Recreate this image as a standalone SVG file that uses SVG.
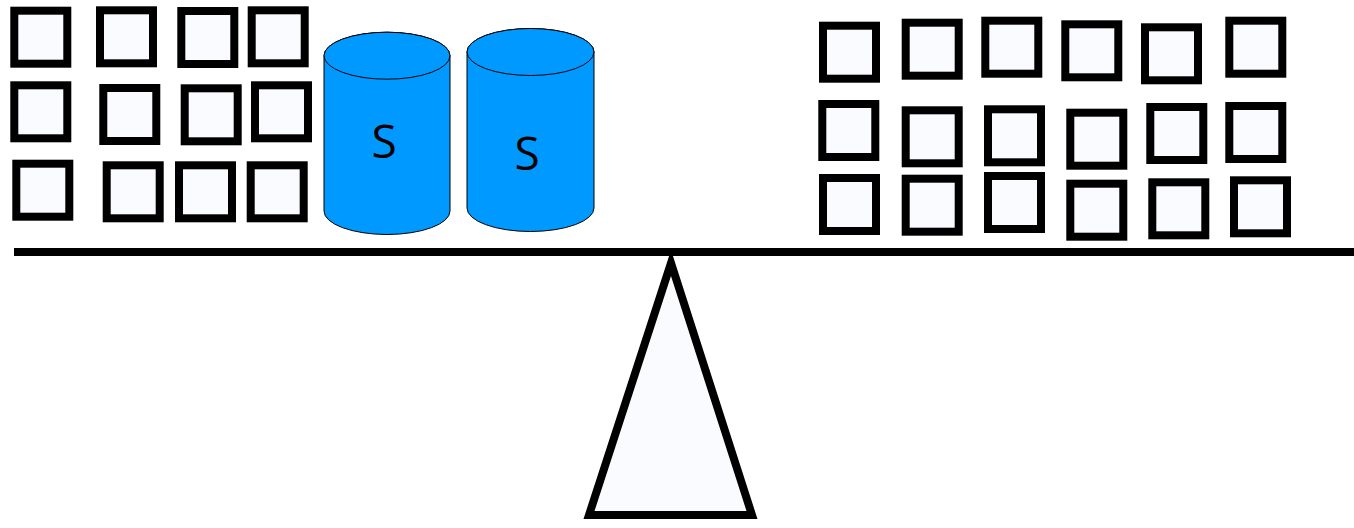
<svg xmlns="http://www.w3.org/2000/svg" width="1354" height="528" viewBox="0 0 1354 528">
<defs>
<style>
.sq{fill:#f9fbff;stroke:#000;stroke-width:8}
.cyl{fill:#0099ff;stroke:#000;stroke-width:1}
.lbl{font-family:"Open Sans","Liberation Sans",sans-serif;font-size:46px;fill:#000;text-anchor:middle}
.fulcrum{fill:#f9fbff;stroke:#000;stroke-width:8;stroke-linejoin:miter}
.beam{stroke:#000;stroke-width:8}
</style>
</defs>
<rect width="1354" height="528" fill="#fff"/>
<g id="fulcrum"><polygon class="fulcrum" points="589,515 752,515 671,263"/></g>
<g id="beam"><line class="beam" x1="14" y1="252" x2="1354" y2="252"/></g>
<g id="left-squares">
<rect id="l1" class="sq" x="14.3" y="10.7" width="53" height="53"/>
<rect id="l2" class="sq" x="100" y="10.3" width="53" height="53"/>
<rect id="l3" class="sq" x="181.3" y="11" width="53" height="53"/>
<rect id="l4" class="sq" x="251.7" y="10.3" width="53" height="53"/>
<rect id="l5" class="sq" x="14.3" y="85.3" width="53" height="53"/>
<rect id="l6" class="sq" x="103.3" y="88" width="53" height="53"/>
<rect id="l7" class="sq" x="184.7" y="88.3" width="53" height="53"/>
<rect id="l8" class="sq" x="255" y="85.3" width="53" height="53"/>
<rect id="l9" class="sq" x="16.3" y="163.7" width="53" height="53"/>
<rect id="l10" class="sq" x="106.7" y="165.3" width="53" height="53"/>
<rect id="l11" class="sq" x="179" y="165.3" width="53" height="53"/>
<rect id="l12" class="sq" x="250.7" y="165.3" width="53" height="53"/>
</g>
<g id="cyl1">
<path class="cyl" d="M324,55.7 L324,211 A63,23.5 0 0 0 450,211 L450,55.7 A63,23.5 0 0 0 324,55.7 Z"/>
<ellipse class="cyl" cx="387" cy="55.7" rx="63" ry="23.5"/>
<text class="lbl" x="384" y="157.5">S</text>
</g>
<g id="cyl2">
<path class="cyl" d="M467,52 L467,208 A63.5,23.5 0 0 0 594,208 L594,52 A63.5,23.5 0 0 0 467,52 Z"/>
<ellipse class="cyl" cx="530.5" cy="52" rx="63.5" ry="23.5"/>
<text class="lbl" x="527" y="170">S</text>
</g>
<g id="right-squares">
<rect id="r1" class="sq" x="823" y="25.7" width="53" height="53"/>
<rect id="r2" class="sq" x="905.7" y="22.7" width="53" height="53"/>
<rect id="r3" class="sq" x="985.3" y="20.7" width="53" height="53"/>
<rect id="r4" class="sq" x="1065.3" y="24.3" width="53" height="53"/>
<rect id="r5" class="sq" x="1145" y="27.3" width="53" height="53"/>
<rect id="r6" class="sq" x="1229.3" y="20.7" width="53" height="53"/>
<rect id="r7" class="sq" x="822.3" y="104" width="53" height="53"/>
<rect id="r8" class="sq" x="905.7" y="110.3" width="53" height="53"/>
<rect id="r9" class="sq" x="988" y="109.3" width="53" height="53"/>
<rect id="r10" class="sq" x="1070.3" y="112.7" width="53" height="53"/>
<rect id="r11" class="sq" x="1150.3" y="107" width="53" height="53"/>
<rect id="r12" class="sq" x="1229.3" y="106" width="53" height="53"/>
<rect id="r13" class="sq" x="823" y="178" width="53" height="53"/>
<rect id="r14" class="sq" x="905.7" y="178.7" width="53" height="53"/>
<rect id="r15" class="sq" x="988" y="176" width="53" height="53"/>
<rect id="r16" class="sq" x="1070.3" y="183.7" width="53" height="53"/>
<rect id="r17" class="sq" x="1152.3" y="182.3" width="53" height="53"/>
<rect id="r18" class="sq" x="1234" y="180.3" width="53" height="53"/>
</g>
</svg>
